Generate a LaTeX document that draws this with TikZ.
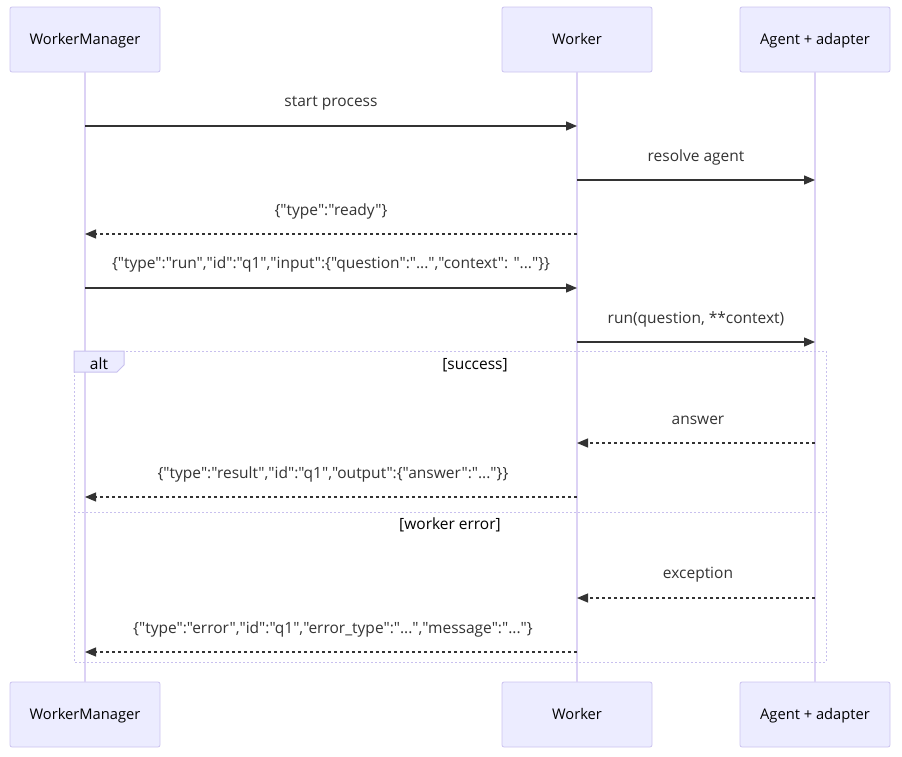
\documentclass[tikz,border=0pt]{standalone}
\usepackage{fontspec}
\setmainfont{Open Sans}[Ligatures=TeXOff]
\usetikzlibrary{arrows.meta}
\definecolor{actfill}{HTML}{ECECFF}
\definecolor{actline}{HTML}{CCC3F0}
\definecolor{lifel}{HTML}{DCD2F5}
\definecolor{msg}{HTML}{333333}
\definecolor{frame}{HTML}{C8C0EE}
\tikzset{
  actor/.style={draw=actline, fill=actfill, rounded corners=2pt, minimum width=150pt, minimum height=65pt, inner sep=0pt, font=\fontsize{14.7}{17}\selectfont, text=black, line width=0.8pt, text height=10.5pt, text depth=0pt},
  lifeline/.style={draw=lifel, line width=1.2pt},
  sync/.style={draw=msg, line width=1.3pt, -{Triangle[length=11pt,width=9pt]}},
  reply/.style={draw=msg, line width=1.1pt, dash pattern=on 3pt off 3pt, -{Triangle[length=11pt,width=9pt]}},
  mlabel/.style={font=\fontsize{15.5}{18}\selectfont, text=msg, inner sep=0pt},
  altframe/.style={draw=frame, line width=1pt, dash pattern=on 2pt off 2pt},
  altlabel/.style={font=\fontsize{15.5}{18}\selectfont, text=black, inner sep=0pt}
}
\begin{document}
\begin{tikzpicture}[x=1pt,y=-1pt]
\useasboundingbox (0,0) rectangle (902,756);
% actors
\node[actor] (wmT) at (85,39.5) {WorkerManager};
\node[actor] (wT) at (577,39.5) {Worker};
\node[actor] (aT) at (815,39.5) {Agent + adapter};
\node[actor] (wmB) at (85,714.5) {WorkerManager};
\node[actor] (wB) at (577,714.5) {Worker};
\node[actor] (aB) at (815,714.5) {Agent + adapter};
% lifelines
\draw[lifeline] (wmT.south) -- (wmB.north);
\draw[lifeline] (wT.south) -- (wB.north);
\draw[lifeline] (aT.south) -- (aB.north);
% alt frame
\draw[altframe] (74,351) rectangle (826,662);
\draw[altframe] (74,512) -- (826,512);
\draw[draw=frame, fill=actfill, line width=1pt] (74,351) -- (124,351) -- (124,365) -- (117,372) -- (74,372) -- cycle;
\node[altlabel] (altl) at (99,364) {alt};
\node[altlabel] (succ) at (475,365) {[success]};
\node[altlabel] (werr) at (450,525) {[worker error]};
% message coordinates
\coordinate (m1a) at (85,126); \coordinate (m1b) at (577,126);
\coordinate (m2a) at (577,180); \coordinate (m2b) at (815,180);
\coordinate (m3a) at (577,234); \coordinate (m3b) at (85,234);
\coordinate (m4a) at (85,288); \coordinate (m4b) at (577,288);
\coordinate (m5a) at (577,342); \coordinate (m5b) at (815,342);
\coordinate (m6a) at (815,443); \coordinate (m6b) at (577,443);
\coordinate (m7a) at (577,497); \coordinate (m7b) at (85,497);
\coordinate (m8a) at (815,598); \coordinate (m8b) at (577,598);
\coordinate (m9a) at (577,652); \coordinate (m9b) at (85,652);
% messages
\draw[sync] (m1a) -- (m1b);
\node[mlabel] (l1) at (331,103) {start process};
\draw[sync] (m2a) -- (m2b);
\node[mlabel] (l2) at (696,157) {resolve agent};
\draw[reply] (m3a) -- (m3b);
\node[mlabel] (l3) at (331,211) {\{"type":"ready"\}};
\draw[sync] (m4a) -- (m4b);
\node[mlabel] (l4) at (331,264) {\{"type":"run","id":"q1","input":\{"question":"...","context": "..."\}\}};
\draw[sync] (m5a) -- (m5b);
\node[mlabel] (l5) at (696,319) {run(question, **context)};
\draw[reply] (m6a) -- (m6b);
\node[mlabel] (l6) at (698,420) {answer};
\draw[reply] (m7a) -- (m7b);
\node[mlabel] (l7) at (333,474) {\{"type":"result","id":"q1","output":\{"answer":"..."\}\}};
\draw[reply] (m8a) -- (m8b);
\node[mlabel] (l8) at (698,575) {exception};
\draw[reply] (m9a) -- (m9b);
\node[mlabel] (l9) at (333,629) {\{"type":"error","id":"q1","error\_type":"...","message":"..."\}};
\end{tikzpicture}
\end{document}
